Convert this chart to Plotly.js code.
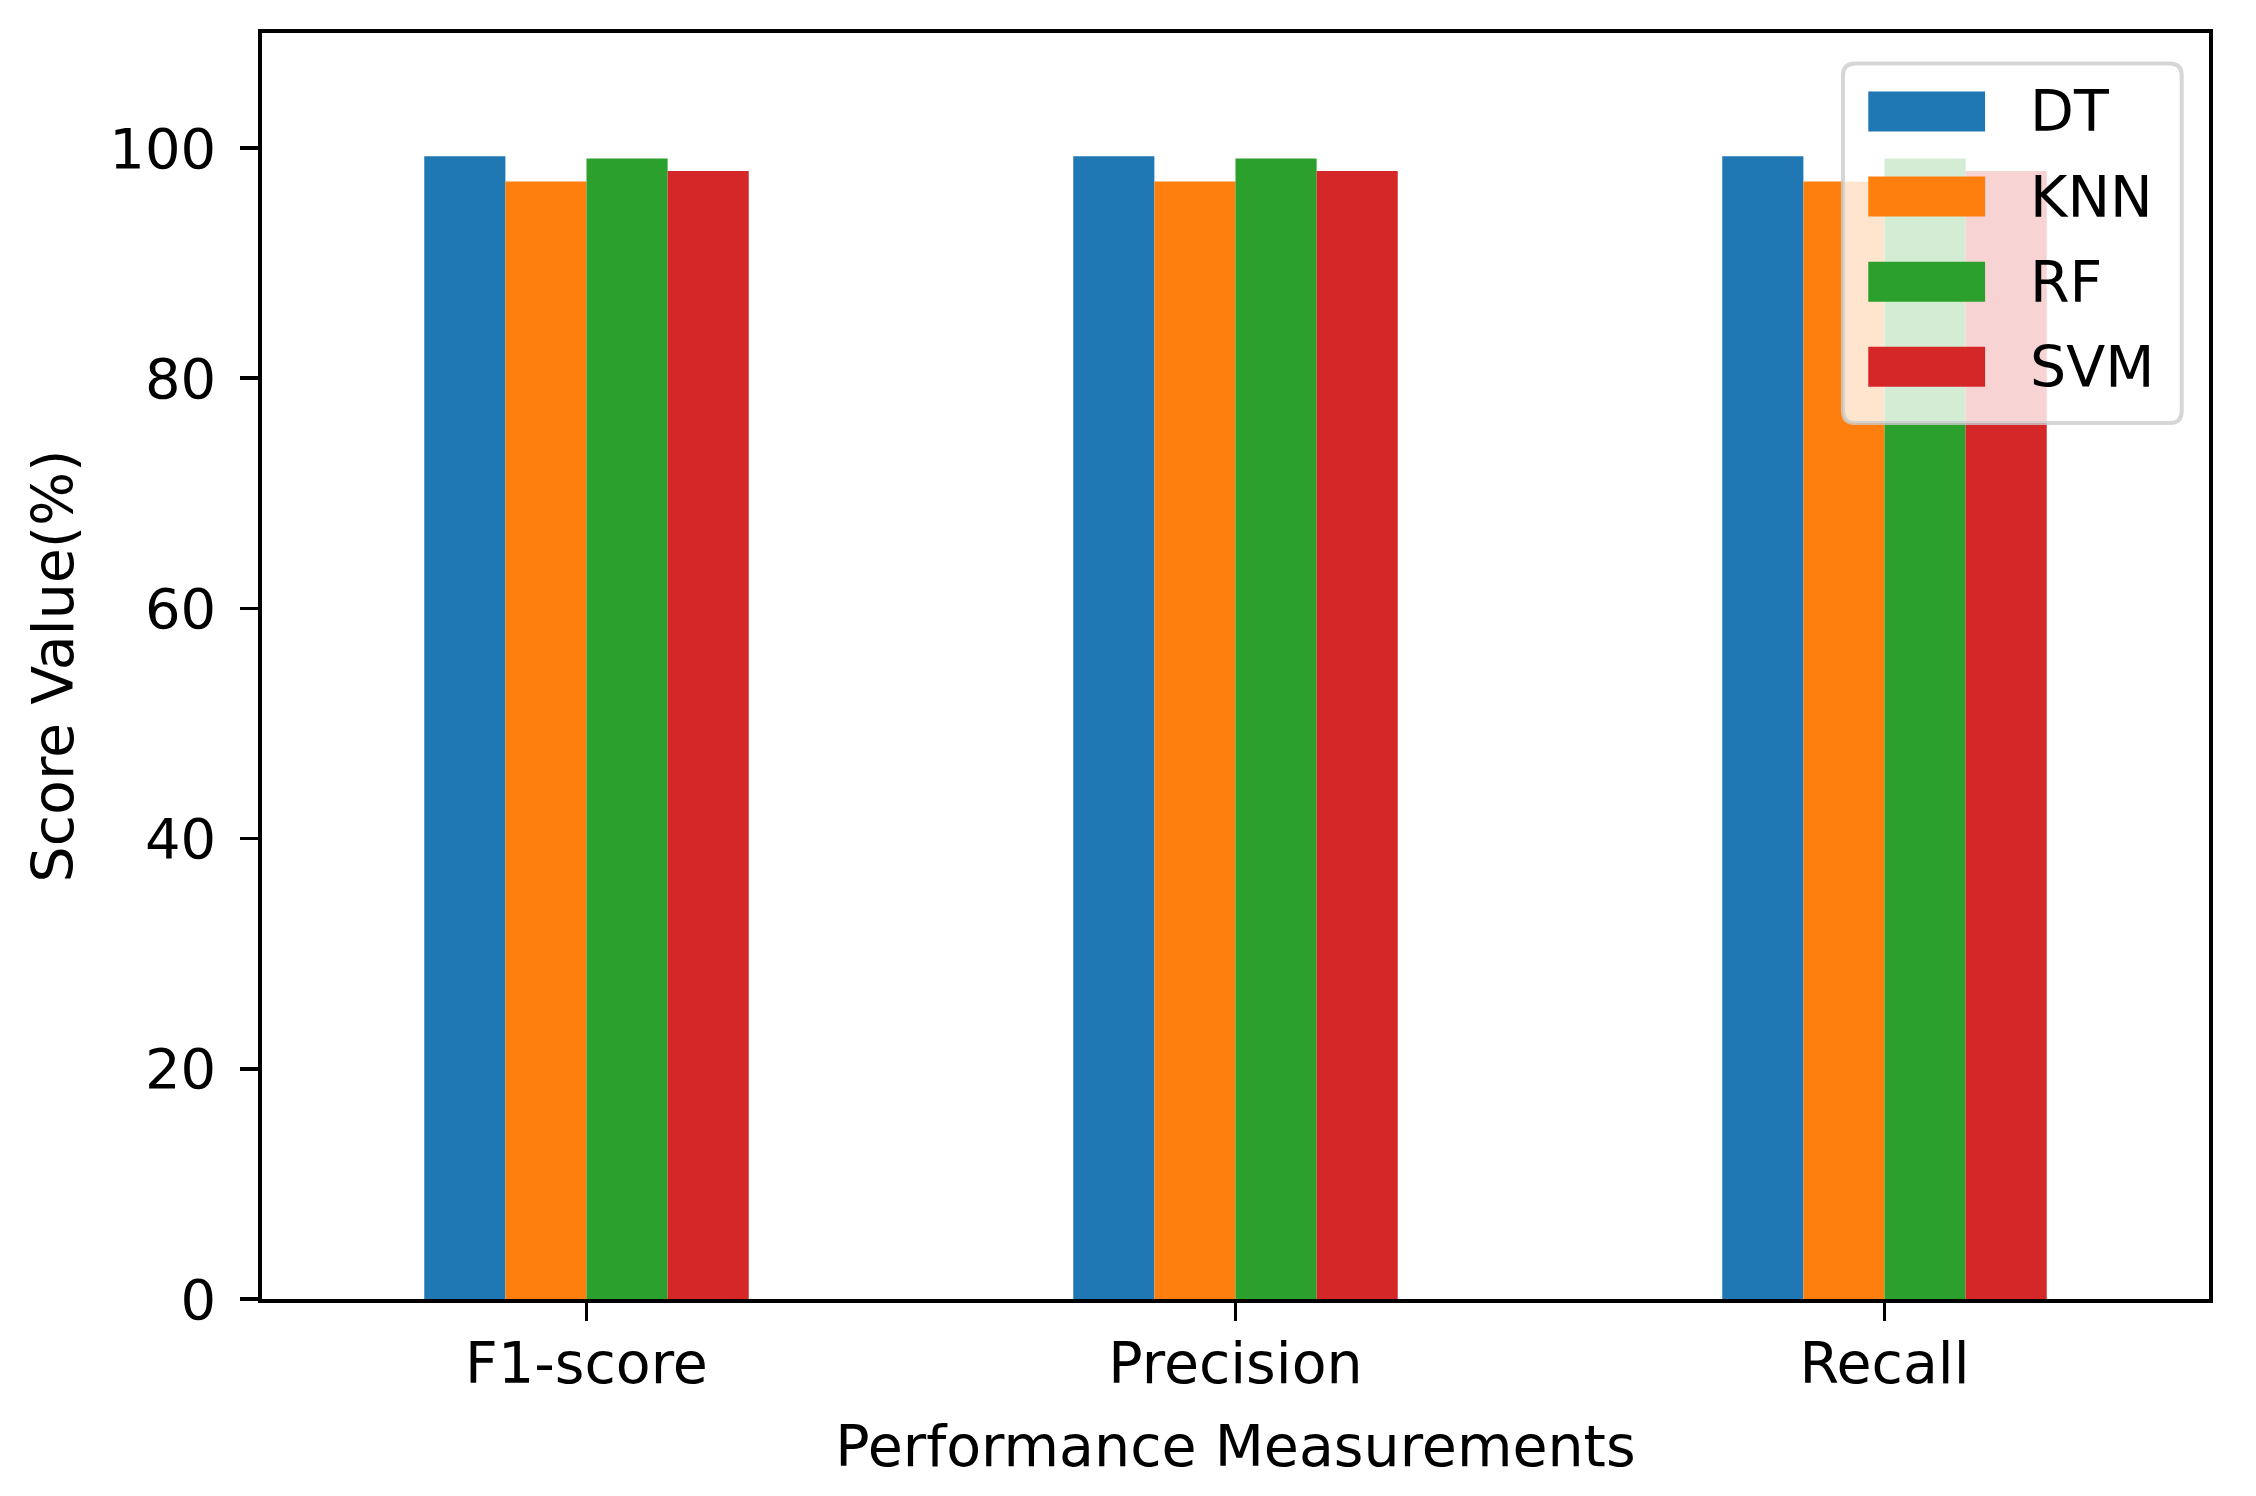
<!DOCTYPE html>
<html>
<head>
<meta charset="utf-8">
<script src="https://cdn.plot.ly/plotly-3.0.1.min.js"></script>
<style>
  html, body { margin: 0; padding: 0; background: #fff; }
  #chart { width: 2256px; height: 1496px; }
</style>
</head>
<body>
<div id="chart"></div>
<script>
// Scores per model for each performance measurement
const categories = ["F1-score", "Precision", "Recall"];
const models = ["DT", "KNN", "RF", "SVM"];
const dtScores = [99.3, 99.3, 99.3];
const knnScores = [97.1, 97.1, 97.1];
const rfScores = [99.1, 99.1, 99.1];
const svmScores = [98.0, 98.0, 98.0];
const yTicks = [0, 20, 40, 60, 80, 100];

const COLORS = ["#1f77b4", "#ff7f0e", "#2ca02c", "#d62728"];
const FONT = "DejaVu Sans, Liberation Sans, sans-serif";
const FS = 57;

const seriesValues = [dtScores, knnScores, rfScores, svmScores];

const traces = models.map((name, i) => ({
  type: "bar",
  name: name,
  x: categories,
  y: seriesValues[i],
  marker: { color: COLORS[i], line: { width: 0 } },
  showlegend: false,
}));

// ── legend drawn as shapes + annotations (matplotlib-like big handles) ──
const LEG = { x0: 0.812, x1: 0.986, y0: 0.692, y1: 0.976 };
const rx = 12 / 1947, ry = 12 / 1266;
const boxPath =
  `M ${LEG.x0 + rx},${LEG.y0} L ${LEG.x1 - rx},${LEG.y0} Q ${LEG.x1},${LEG.y0} ${LEG.x1},${LEG.y0 + ry} ` +
  `L ${LEG.x1},${LEG.y1 - ry} Q ${LEG.x1},${LEG.y1} ${LEG.x1 - rx},${LEG.y1} ` +
  `L ${LEG.x0 + rx},${LEG.y1} Q ${LEG.x0},${LEG.y1} ${LEG.x0},${LEG.y1 - ry} ` +
  `L ${LEG.x0},${LEG.y0 + ry} Q ${LEG.x0},${LEG.y0} ${LEG.x0 + rx},${LEG.y0} Z`;

const shapes = [{
  type: "path", xref: "paper", yref: "paper", path: boxPath,
  fillcolor: "rgba(255,255,255,0.8)",
  line: { color: "rgba(204,204,204,0.8)", width: 4 },
}];
const annotations = [];

const rowTop = 0.938, rowStep = 0.0672, handleH = 0.0316;
models.forEach((name, i) => {
  const cy = rowTop - i * rowStep;
  shapes.push({
    type: "rect", xref: "paper", yref: "paper",
    x0: 0.825, x1: 0.885, y0: cy - handleH / 2, y1: cy + handleH / 2,
    fillcolor: COLORS[i], line: { width: 0 },
  });
  annotations.push({
    xref: "paper", yref: "paper", x: 0.907, y: cy,
    xanchor: "left", yanchor: "middle", showarrow: false,
    text: name, font: { family: FONT, size: FS, color: "#000" },
  });
});

const layout = {
  width: 2256,
  height: 1496,
  margin: { l: 262, r: 47, t: 33, b: 197 },
  paper_bgcolor: "#fff",
  plot_bgcolor: "#fff",
  font: { family: FONT, size: FS, color: "#000" },
  barmode: "group",
  bargap: 0.5,
  bargroupgap: 0,
  showlegend: false,
  xaxis: {
    type: "category",
    range: [-0.5, 2.5],
    showline: true, mirror: true, linecolor: "#000", linewidth: 3.6,
    ticks: "outside", ticklen: 18, tickwidth: 3.6, tickcolor: "#000",
    showgrid: false, zeroline: false,
    tickfont: { family: FONT, size: FS, color: "#000" },
    ticklabelstandoff: -6,
    title: { text: "Performance Measurements", font: { family: FONT, size: FS, color: "#000" }, standoff: 32 },
  },
  yaxis: {
    range: [0, 110],
    tickvals: yTicks,
    ticktext: yTicks.map(String),
    showline: true, mirror: true, linecolor: "#000", linewidth: 3.6,
    ticks: "outside", ticklen: 18, tickwidth: 3.6, tickcolor: "#000",
    showgrid: false, zeroline: false,
    tickfont: { family: FONT, size: 56, color: "#000" },
    ticklabelstandoff: 13,
    title: { text: "Score Value(%)", font: { family: FONT, size: FS, color: "#000" }, standoff: 18 },
  },
  shapes: shapes,
  annotations: annotations,
};

Plotly.newPlot("chart", traces, layout, { displayModeBar: false, staticPlot: true });
</script>
</body>
</html>
